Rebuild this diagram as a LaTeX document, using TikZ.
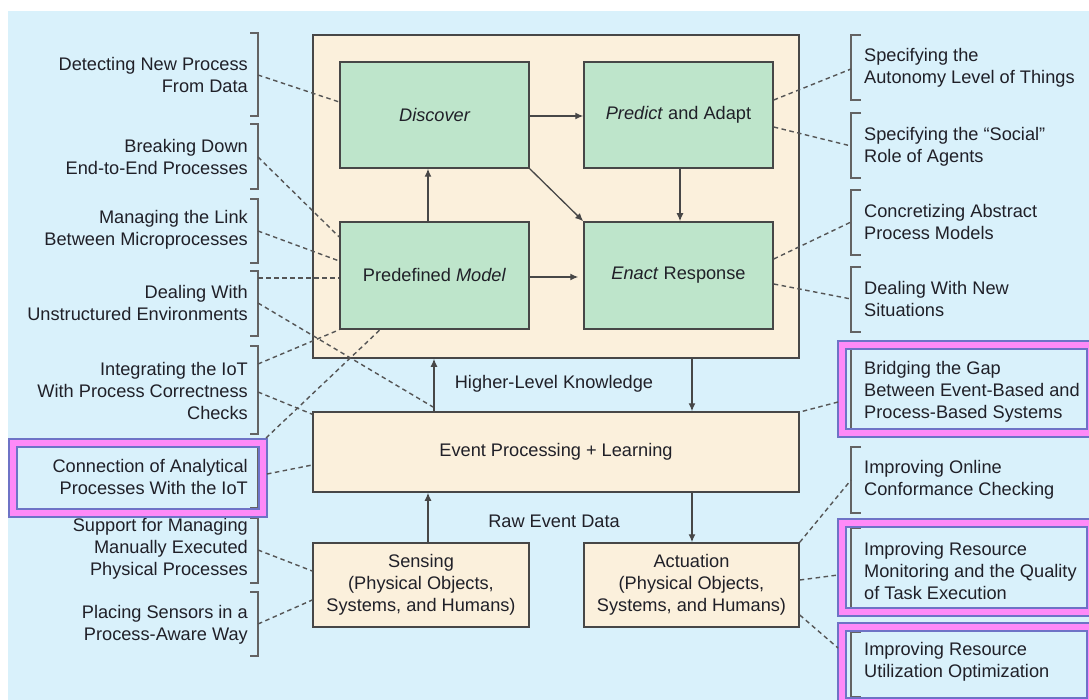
\documentclass[tikz,border=0pt]{standalone}
\usepackage{fontspec}
\setmainfont{Liberation Sans}
\usetikzlibrary{arrows.meta,calc}
\definecolor{bgblue}{HTML}{D9F1FB}
\definecolor{cream}{HTML}{FBF0DC}
\definecolor{mint}{HTML}{BEE5CB}
\definecolor{edge}{HTML}{474747}
\definecolor{dashc}{HTML}{555555}
\definecolor{hlpink}{HTML}{FF8AF8}
\definecolor{hlblue}{HTML}{6E73C6}
\definecolor{txt}{HTML}{202028}
\newcommand\lbrk[2]{\draw[brk] (250,#1) -- (258,#1) -- (258,#2) -- (250,#2);}
\newcommand\rbrk[2]{\draw[brk] (861,#1) -- (851,#1) -- (851,#2) -- (861,#2);}
\newcommand\hlframe[4]{%
  \path[fill=hlpink, even odd rule] (#1,#2) rectangle (#3,#4) ($(#1,#2)+(8,8)$) rectangle ($(#3,#4)+(-8,-8)$);
  \draw[hlblue, line width=1.2pt] (#1,#2) rectangle (#3,#4);
  \draw[hlblue, line width=1.2pt] ($(#1,#2)+(8,8)$) rectangle ($(#3,#4)+(-8,-8)$);}
\begin{document}
\begin{tikzpicture}[x=1pt,y=-1pt, font=\fontsize{18.2}{22}\selectfont, text=txt,
 box/.style={draw=edge, line width=1.5pt, inner sep=0pt, align=center},
 cbox/.style={box, fill=cream},
 gbox/.style={box, fill=mint},
 arr/.style={draw=edge, line width=1.3pt, -{Latex[length=8pt,width=7pt]}},
 dsh/.style={draw=dashc, line width=1.4pt, dash pattern=on 4.5pt off 3.5pt},
 brk/.style={draw=edge!85, line width=1.3pt},
 lt/.style={anchor=east, align=right, inner sep=0pt},
 rt/.style={anchor=west, align=left, inner sep=0pt},
]
\useasboundingbox (0,0) rectangle (1089,700);
\fill[white] (0,0) rectangle (1089,700);
\fill[bgblue] (8,11) rectangle (1089,700);

% main boxes
\node[cbox, minimum width=486pt, minimum height=323pt] (outer) at (556,196.5) {};
\node[gbox, minimum width=189pt, minimum height=106pt] (disc) at (434.5,115) {\itshape Discover};
\node[gbox, minimum width=189pt, minimum height=106pt] (pred) at (678.5,115) {\textit{Predict} and Adapt};
\node[gbox, minimum width=189pt, minimum height=107pt] (model) at (434.5,275.5) {Predefined \textit{Model}};
\node[gbox, minimum width=189pt, minimum height=107pt] (enact) at (678.5,275.5) {\textit{Enact} Response};
\node[cbox, minimum width=486pt, minimum height=80pt] (event) at (556,452) {Event Processing + Learning};
\node[cbox, minimum width=216pt, minimum height=84pt] (sens) at (421,585) {Sensing\\(Physical Objects,\\Systems, and Humans)};
\node[cbox, minimum width=215pt, minimum height=84pt] (act) at (691.5,585) {Actuation\\(Physical Objects,\\Systems, and Humans)};

\node[inner sep=0pt] (hlk) at (554,384) {Higher-Level Knowledge};
\node[inner sep=0pt] (raw) at (554,521) {Raw Event Data};

% arrows
\draw[arr] (disc.east |- 0,116) coordinate (a1) -- (a1 -| pred.west);
\draw[arr] (model.east |- 0,277) coordinate (a2) -- ($(a2 -| enact.west)+(-5,0)$) coordinate (a2e);
\draw[arr] (model.north -| 428,0) coordinate (a3) -- (a3 |- disc.south);
\draw[arr] (pred.south -| 680,0) coordinate (a4) -- (a4 |- enact.north);
\draw[arr] (disc.south east) -- (enact.north west);
\draw[arr] (event.north -| 434,0) coordinate (a5) -- (a5 |- outer.south);
\draw[arr] (outer.south -| 692,0) coordinate (a6) -- (a6 |- event.north);
\draw[arr] (sens.north -| 428,0) coordinate (a7) -- (a7 |- event.south);
\draw[arr] (event.south -| 692,0) coordinate (a8) -- (a8 |- act.north);

% left labels and brackets
\node[lt] (l1) at (248,75) {Detecting New Process\\From Data};
\node[lt] (l2) at (248,157) {Breaking Down\\End-to-End Processes};
\node[lt] (l3) at (248,230) {Managing the Link\\Between Microprocesses};
\node[lt] (l4) at (248,303) {Dealing With\\Unstructured Environments};
\node[lt] (l5) at (248,391) {Integrating the IoT\\With Process Correctness\\Checks};
\node[lt] (l6) at (248,477) {Connection of Analytical\\Processes With the IoT};
\node[lt] (l7) at (248,549) {Support for Managing\\Manually Executed\\Physical Processes};
\node[lt] (l8) at (248,625) {Placing Sensors in a\\Process-Aware Way};
\lbrk{33}{116}
\lbrk{124}{189}
\lbrk{199}{263}
\lbrk{271}{336}
\lbrk{346}{434}
\lbrk{447}{508}
\lbrk{518}{583}
\lbrk{592}{656}

% right labels and brackets
\node[rt] (r1) at (864,68) {Specifying the\\Autonomy Level of Things};
\node[rt] (r2) at (864,147) {Specifying the “Social”\\Role of Agents};
\node[rt] (r3) at (864,222) {Concretizing Abstract\\Process Models};
\node[rt] (r4) at (864,299) {Dealing With New\\Situations};
\node[rt] (r5) at (864,392) {Bridging the Gap\\Between Event-Based and\\Process-Based Systems};
\node[rt] (r6) at (864,480) {Improving Online\\Conformance Checking};
\node[rt] (r7) at (864,571) {Improving Resource\\Monitoring and the Quality\\of Task Execution};
\node[rt] (r8) at (864,662) {Improving Resource\\Utilization Optimization};
\rbrk{35}{100}
\rbrk{113}{178}
\rbrk{190}{255}
\rbrk{267}{332}
\rbrk{349}{437}
\rbrk{447}{513}
\rbrk{528}{616}
\rbrk{632}{697}

% highlight frames
\hlframe{9}{439}{267}{517}
\hlframe{838}{341}{1095}{437}
\hlframe{838}{519}{1095}{616}
\hlframe{838}{623}{1095}{706}

% connector end points
\coordinate (p1) at (258,75);   \coordinate (q1) at (disc.west |- 0,102);
\coordinate (p2) at (258,157);  \coordinate (q2) at (model.west |- 0,237);
\coordinate (p3) at (258,231);  \coordinate (q3) at (model.west |- 0,261);
\coordinate (p4) at (258,278);  \coordinate (q4) at (model.west |- 0,278);
\coordinate (p5) at (258,303);  \coordinate (q5) at (433,407);
\coordinate (p6) at (258,364);  \coordinate (q6) at (model.south west);
\coordinate (p7) at (258,392);  \coordinate (q7) at ($(event.north west)+(0,3)$);
\coordinate (p8) at (266,438);  \coordinate (q8) at (model.south -| 380,0);
\coordinate (p9) at (267,474);  \coordinate (q9) at (event.west |- 0,465);
\coordinate (p10) at (258,550); \coordinate (q10) at (sens.west |- 0,571);
\coordinate (p11) at (258,624); \coordinate (q11) at (sens.west |- 0,600);

\coordinate (s1) at (851,69);   \coordinate (t1) at (pred.east |- 0,100);
\coordinate (s2) at (851,146);  \coordinate (t2) at (pred.east |- 0,127);
\coordinate (s3) at (851,222);  \coordinate (t3) at (enact.east |- 0,259);
\coordinate (s4) at (851,299);  \coordinate (t4) at (enact.east |- 0,284);
\coordinate (s5) at (838,402);  \coordinate (t5) at ($(event.north east)+(3,0)$);
\coordinate (s6) at (851,480);  \coordinate (t6) at (act.north east);
\coordinate (s7) at (838,575);  \coordinate (t7) at (act.east |- 0,580);
\coordinate (s8) at (838,648);  \coordinate (t8) at (act.east |- 0,615);

\foreach \i in {1,...,11} {\draw[dsh] (p\i) -- (q\i);}
\foreach \i in {1,...,8} {\draw[dsh] (t\i) -- (s\i);}
\end{tikzpicture}
\end{document}
